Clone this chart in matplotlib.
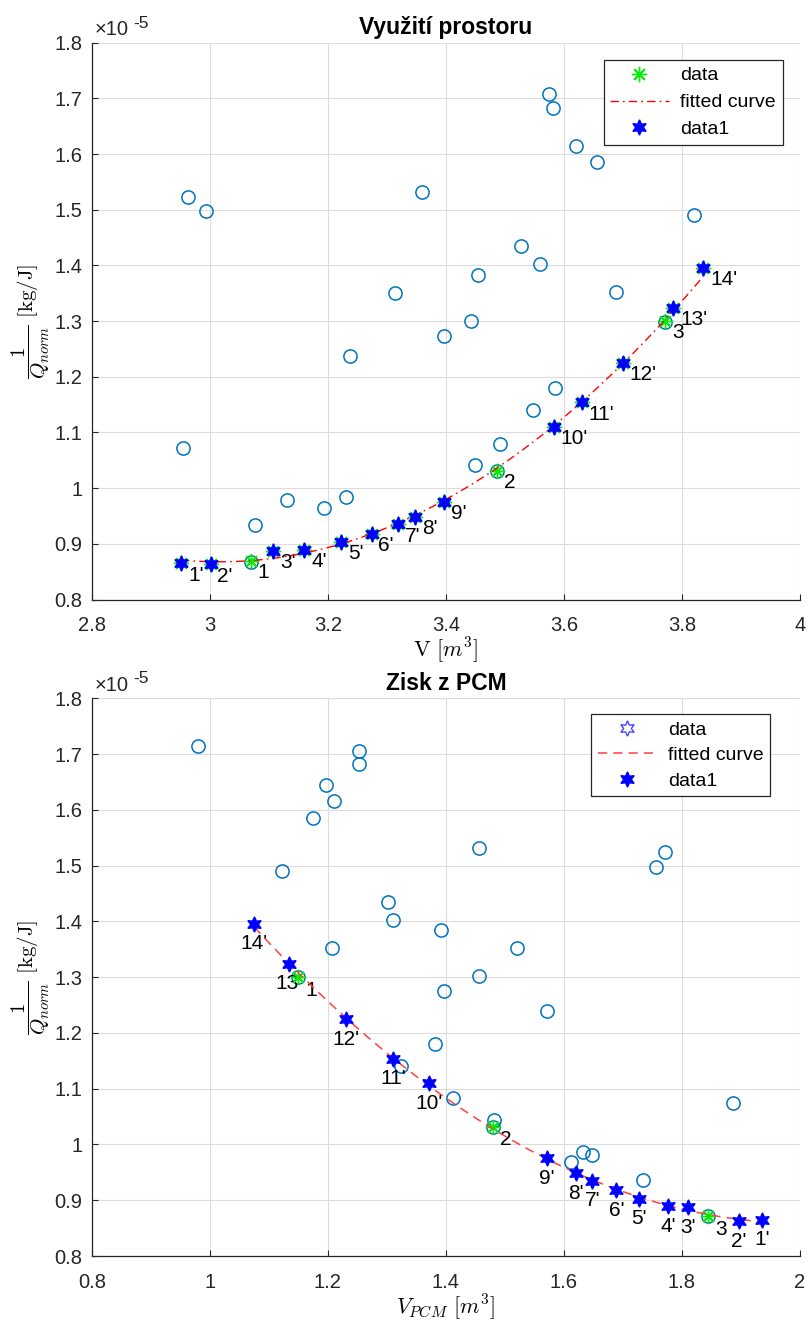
import numpy as np
import matplotlib
matplotlib.use("Agg")
import matplotlib.pyplot as plt
from matplotlib.lines import Line2D
from matplotlib.ticker import FuncFormatter, MultipleLocator

# --- values (1/Q_norm in units of 1e-5 kg/J) ---------------------------------
# all evaluated variants, plotted against total volume V
v_all = [2.954, 2.962, 2.993, 3.069, 3.076, 3.131, 3.193, 3.230, 3.238, 3.314,
         3.360, 3.397, 3.443, 3.449, 3.455, 3.486, 3.492, 3.527, 3.548, 3.560,
         3.575, 3.582, 3.585, 3.620, 3.656, 3.689, 3.772, 3.821]
q_all_v = [1.072, 1.522, 1.497, 0.868, 0.934, 0.979, 0.965, 0.984, 1.238, 1.350,
           1.531, 1.274, 1.300, 1.041, 1.383, 1.030, 1.080, 1.434, 1.140, 1.402,
           1.707, 1.683, 1.180, 1.615, 1.586, 1.352, 1.299, 1.490]

# the same variants plotted against PCM volume
vpcm_all = [0.980, 1.123, 1.150, 1.175, 1.197, 1.207, 1.210, 1.252, 1.252, 1.302,
            1.311, 1.324, 1.382, 1.392, 1.396, 1.412, 1.456, 1.457, 1.480, 1.481,
            1.520, 1.572, 1.613, 1.633, 1.647, 1.735, 1.757, 1.772, 1.845, 1.887]
q_all_pcm = [1.714, 1.490, 1.300, 1.586, 1.645, 1.353, 1.615, 1.706, 1.683, 1.434,
             1.403, 1.141, 1.181, 1.384, 1.275, 1.083, 1.532, 1.302, 1.032, 1.044,
             1.352, 1.239, 0.968, 0.986, 0.982, 0.937, 1.498, 1.524, 0.871, 1.074]

# data points 1, 2, 3 used for the fit
data_labels = ["1", "2", "3"]
v_data = [3.069, 3.486, 3.772]
q_data_v = [0.869, 1.031, 1.300]
vpcm_data = [1.150, 1.480, 1.845]
q_data_pcm = [1.300, 1.032, 0.871]

# points 1' .. 14' on the fitted front
star_labels = ["1'", "2'", "3'", "4'", "5'", "6'", "7'", "8'", "9'",
               "10'", "11'", "12'", "13'", "14'"]
v_star = [2.951, 3.001, 3.107, 3.160, 3.222, 3.274, 3.319, 3.348, 3.397,
          3.583, 3.630, 3.700, 3.785, 3.836]
vpcm_star = [1.936, 1.897, 1.811, 1.777, 1.728, 1.689, 1.648, 1.620, 1.571,
             1.371, 1.311, 1.230, 1.134, 1.075]
q_star = [0.865, 0.863, 0.888, 0.889, 0.903, 0.918, 0.935, 0.948, 0.976,
          1.110, 1.154, 1.225, 1.324, 1.396]

# --- style ---------------------------------------------------------------------
plt.rcParams['font.family'] = ['Liberation Sans', 'DejaVu Sans']
plt.rcParams['mathtext.fontset'] = 'cm'
plt.rcParams['axes.unicode_minus'] = False

GRAY = '#262626'
C_CIRC = '#0072BD'
GREEN = '#00ee00'
HEXA = (6, 1, 0)
ASTER = (8, 2, 0)


def style_axes(ax, xlim, xstep):
    ax.set_xlim(*xlim)
    ax.set_ylim(0.8, 1.8)
    ax.xaxis.set_major_locator(MultipleLocator(xstep))
    ax.yaxis.set_major_locator(MultipleLocator(0.1))
    fmt = FuncFormatter(lambda v, p: '%g' % round(v, 4))
    ax.xaxis.set_major_formatter(fmt)
    ax.yaxis.set_major_formatter(fmt)
    ax.grid(True, color='#dcdcdc', linewidth=0.8)
    ax.set_axisbelow(True)
    for s in ('top', 'right'):
        ax.spines[s].set_visible(False)
    for s in ('left', 'bottom'):
        ax.spines[s].set_color(GRAY)
        ax.spines[s].set_linewidth(0.9)
    ax.tick_params(direction='in', length=4, width=0.8, colors=GRAY,
                   labelsize=14.5)
    ax.tick_params(axis='x', pad=12)
    ax.tick_params(axis='y', pad=7)
    ax.text(0.004, 1.006, '\u00d710', transform=ax.transAxes, ha='left',
            va='bottom', fontsize=14.5, color=GRAY)
    ax.annotate('-5', xy=(0, 1), xycoords='axes fraction', xytext=(29.5, 8.5),
                textcoords='offset points', fontsize=12.5, color=GRAY,
                ha='left', va='bottom')
    ax.set_ylabel(r'$\dfrac{1}{Q_{norm}}\ [\mathrm{kg/J}]$', fontsize=15,
                  va='center')
    ax.yaxis.set_label_coords(-0.0865, 0.5)


def add_legend(ax, handles, anchor, spacing):
    leg = ax.legend(handles, ['data', 'fitted curve', 'data1'],
                    loc='upper right', bbox_to_anchor=anchor,
                    borderaxespad=0, fontsize=14, frameon=True,
                    fancybox=False, framealpha=1, edgecolor=GRAY,
                    handlelength=3.0, handletextpad=0.6,
                    labelspacing=spacing, borderpad=0.35)
    leg.get_frame().set_linewidth(0.9)
    return leg


fig = plt.figure(figsize=(8.07, 13.22), dpi=100)
ax1 = fig.add_axes([0.114, 0.5465, 0.877, 0.4212])
ax2 = fig.add_axes([0.114, 0.0499, 0.877, 0.4219])

# --- upper panel: total volume -------------------------------------------------
style_axes(ax1, (2.8, 4.0), 0.2)
ax1.plot(v_all, q_all_v, 'o', mfc='none', mec=C_CIRC, ms=9.5, mew=1.1, zorder=3)
ax1.plot(v_star, q_star, ls='none', marker=ASTER, color=GREEN, ms=11,
         mew=1.0, zorder=4)
ax1.plot(v_data, q_data_v, ls='none', marker=ASTER, color=GREEN, ms=11,
         mew=1.0, zorder=4)
fit1 = np.polyfit(np.r_[v_data, v_star[:-1]], np.r_[q_data_v, q_star[:-1]], 2)
xs1 = np.linspace(min(v_star), max(v_star), 200)
ax1.plot(xs1, np.polyval(fit1, xs1), color='red', lw=1.0,
         ls=(0, (6, 3, 1.2, 3)), zorder=5)
ax1.plot(v_star, q_star, ls='none', marker=HEXA, color='blue', ms=11, zorder=6)
for x, y, t in zip(v_star, q_star, star_labels):
    ax1.annotate(t, (x, y), xytext=(5, -8.5), textcoords='offset points',
                 ha='left', va='center', fontsize=15)
for x, y, t in zip(v_data, q_data_v, data_labels):
    ax1.annotate(t, (x, y), xytext=(5, -8), textcoords='offset points',
                 ha='left', va='center', fontsize=15)
ax1.set_title('Využití prostoru', fontsize=16.5, fontweight='bold', pad=6)
ax1.set_xlabel(r'$\mathrm{V}\ [m^3]$', fontsize=16, va='center')
ax1.xaxis.set_label_coords(0.5, -0.0916)

h1 = [Line2D([], [], ls='none', marker=ASTER, color=GREEN, ms=11),
      Line2D([], [], color='red', lw=1.0, ls=(0, (6, 3, 1.2, 3))),
      Line2D([], [], ls='none', marker=HEXA, color='blue', ms=11)]
add_legend(ax1, h1, (0.976, 0.969), 0.48)

# --- lower panel: PCM volume ---------------------------------------------------
style_axes(ax2, (0.8, 2.0), 0.2)
ax2.plot(vpcm_all, q_all_pcm, 'o', mfc='none', mec=C_CIRC, ms=9.5, mew=1.1,
         zorder=3)
ax2.plot(vpcm_data, q_data_pcm, ls='none', marker=ASTER, color=GREEN, ms=11,
         mew=1.0, zorder=4)
fit2 = np.polyfit(np.r_[vpcm_data, vpcm_star], np.r_[q_data_pcm, q_star], 2)
xs2 = np.linspace(min(vpcm_star), max(vpcm_star), 200)
ax2.plot(xs2, np.polyval(fit2, xs2), color='#ff4040', lw=1.1, ls=(0, (6, 4)),
         zorder=5)
ax2.plot(vpcm_star, q_star, ls='none', marker=HEXA, color='blue', ms=11,
         zorder=6)
for x, y, t in zip(vpcm_star, q_star, star_labels):
    ax2.annotate(t, (x, y), xytext=(0, -14.5), textcoords='offset points',
                 ha='center', va='center', fontsize=15)
for x, y, t in zip(vpcm_data, q_data_pcm, data_labels):
    ax2.annotate(t, (x, y), xytext=(5, -9.5), textcoords='offset points',
                 ha='left', va='center', fontsize=15)
ax2.set_title('Zisk z PCM', fontsize=16.5, fontweight='bold', pad=6)
ax2.set_xlabel(r'$V_{PCM}\ [m^3]$', fontsize=16, va='center')
ax2.xaxis.set_label_coords(0.5, -0.0914)

h2 = [Line2D([], [], ls='none', marker=HEXA, mfc='none', mec='#4646ff',
             mew=1.0, ms=11),
      Line2D([], [], color='#ff4040', lw=1.1, ls=(0, (6, 4))),
      Line2D([], [], ls='none', marker=HEXA, color='blue', ms=11)]
add_legend(ax2, h2, (0.9586, 0.971), 0.4)

fig.savefig('out.png', dpi=100)
